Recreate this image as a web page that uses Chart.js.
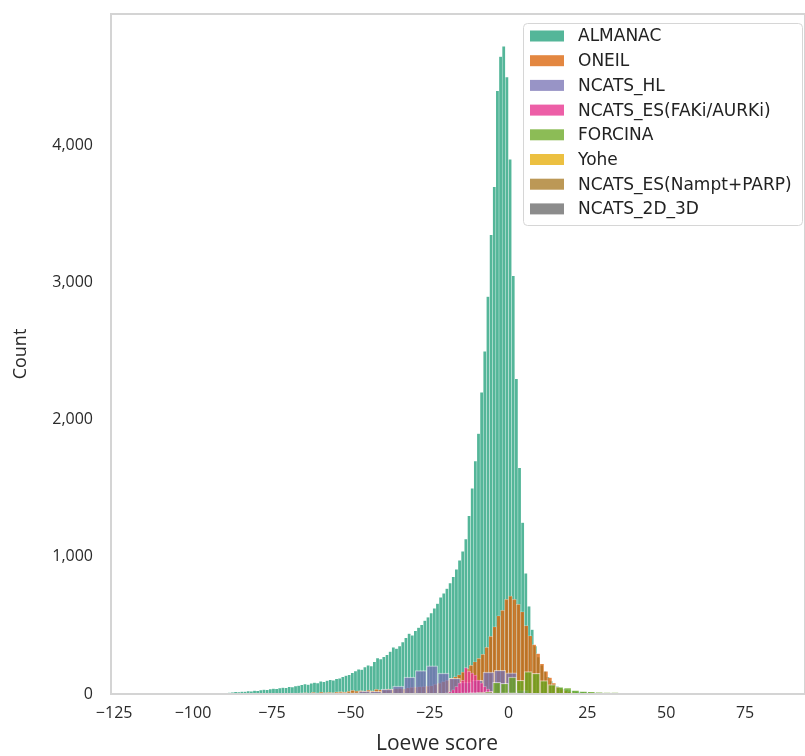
<!DOCTYPE html>
<html>
<head>
<meta charset="utf-8">
<script src="https://cdn.jsdelivr.net/npm/chart.js@4/dist/chart.umd.min.js"></script>
<style>
  html, body { margin: 0; padding: 0; background: #fff; }
  #wrap { width: 805px; height: 756px; }
</style>
</head>
<body>
<div id="wrap"><canvas id="hist" width="805" height="756"></canvas></div>
<script>
// Loewe score histograms, one per study. Counts.
// Each series: left edge of first bin, bin width, counts per bin.
var seriesNames = ['ALMANAC', 'ONEIL', 'NCATS_HL', 'NCATS_ES(FAKi/AURKi)',
                   'FORCINA', 'Yohe', 'NCATS_ES(Nampt+PARP)', 'NCATS_2D_3D'];

var almanacStart = -100, almanacWidth = 1;
var almanacCounts = [
  2, 1, 3, 2, 3, 4, 5, 4, 6, 7,
  8, 10, 12, 15, 14, 18, 17, 21, 20, 25,
  24, 28, 32, 30, 36, 40, 38, 44, 47, 45,
  53, 50, 58, 62, 66, 72, 68, 78, 84, 80,
  92, 88, 98, 104, 100, 110, 114, 126, 134, 140,
  155, 168, 180, 178, 196, 210, 204, 235, 262, 255,
  272, 285, 310, 340, 332, 350, 378, 410, 440, 428,
  460, 485, 505, 535, 560, 590, 625, 660, 705, 735,
  770, 810, 855, 910, 975, 1040, 1130, 1300, 1500, 1700,
  1900, 2200, 2500, 2900, 3350, 3700, 4400, 4650, 4725, 4500,
  3900, 3050, 2300, 1650, 1250, 880, 640, 470, 350, 270,
  210, 165, 125, 95, 72, 56, 46, 38, 32, 27,
  24, 20, 18, 15, 14, 12, 11, 10, 9, 8,
  8, 7, 6, 6, 5, 5, 4, 4, 3, 3,
  3, 2, 2, 2, 2, 1, 2, 1, 1
];

var oneilStart = -70, oneilWidth = 1.25;
var oneilCounts = [
  4, 6, 0, 8, 10, 6, 12, 9, 14, 11,
  13, 10, 15, 18, 14, 20, 26, 22, 25, 20,
  28, 24, 34, 30, 32, 36, 34, 40, 42, 38,
  45, 48, 50, 52, 55, 58,
  60, 70, 80, 90, 100, 115, 125, 140, 160, 185,
  210, 235, 260, 290, 340, 420, 490, 570, 610, 690,
  715, 690, 655, 600, 500, 425, 360, 295, 220, 165,
  120, 80, 52, 36, 25, 17, 11, 7, 4, 3
];

var hlStart = -58.2, hlWidth = 3.58;
var hlCounts = [6, 10, 8, 22, 20, 36, 58, 124, 170, 206, 152, 115, 85, 100, 160, 173, 155, 25];

var fakiStart = -20, fakiWidth = 1;
var fakiCounts = [8, 15, 30, 55, 80, 100, 192, 165, 152, 138, 102, 80, 55, 35, 20, 10, 5];

var forcinaStart = -20, forcinaWidth = 2.5;
var forcinaCounts = [3, 5, 8, 10, 12, 17, 85, 78, 124, 100, 163, 151, 98, 68,
                     52, 46, 29, 22, 20, 15, 14, 12, 10, 3, 4, 3, 2, 3];

var yoheStart = -1.5, yoheWidth = 1.5;
var yoheCounts = [4, 8, 9, 7, 6, 3];

var namptStart = -6, namptWidth = 2;
var namptCounts = [4, 6, 8, 6, 4];

var d3Start = -4, d3Width = 2;
var d3Counts = [3, 4, 3];

var xTicks = [-125, -100, -75, -50, -25, 0, 25, 50, 75];
var yTicks = [0, 1000, 2000, 3000, 4000];
var xMin = -126, xMax = 94;
var yMax = 4961;

// Dark2 palette, seaborn alpha
var colors = ['rgba(27,158,119,0.75)', 'rgba(217,95,2,0.75)', 'rgba(117,112,179,0.75)',
              'rgba(231,41,138,0.75)', 'rgba(102,166,30,0.75)', 'rgba(230,171,2,0.75)',
              'rgba(166,118,29,0.75)', 'rgba(102,102,102,0.75)'];

function binPoints(start, width, counts) {
  var pts = [];
  for (var i = 0; i < counts.length; i++) {
    if (counts[i] > 0) pts.push({ x: start + width * (i + 0.5), y: counts[i] });
  }
  return pts;
}

var series = [
  binPoints(almanacStart, almanacWidth, almanacCounts),
  binPoints(oneilStart, oneilWidth, oneilCounts),
  binPoints(hlStart, hlWidth, hlCounts),
  binPoints(fakiStart, fakiWidth, fakiCounts),
  binPoints(forcinaStart, forcinaWidth, forcinaCounts),
  binPoints(yoheStart, yoheWidth, yoheCounts),
  binPoints(namptStart, namptWidth, namptCounts),
  binPoints(d3Start, d3Width, d3Counts)
];

var tickFont = { family: '"Open Sans", sans-serif', size: 16 };

// each series gets its own (hidden) x axis so the bar width follows its own bins
var scales = {
  x: {
    type: 'linear', min: xMin, max: xMax, offset: false,
    grid: { display: false, drawTicks: false },
    border: { display: false },
    afterBuildTicks: function (s) { s.ticks = xTicks.map(function (v) { return { value: v }; }); },
    afterFit: function (s) { s.height = 62; s.paddingLeft = 0; s.paddingRight = 0; },
    ticks: {
      padding: 10, color: '#2a2a2a', font: tickFont, maxRotation: 0,
      callback: function (v) { return v < 0 ? '\u2212' + Math.abs(v) : String(v); }
    }
  },
  y: {
    type: 'linear', min: 0, max: yMax,
    grid: { display: false, drawTicks: false },
    border: { display: false },
    afterBuildTicks: function (s) { s.ticks = yTicks.map(function (v) { return { value: v }; }); },
    afterFit: function (s) { s.width = 111; s.paddingTop = 0; s.paddingBottom = 0; },
    ticks: {
      padding: 18, color: '#2a2a2a', font: tickFont,
      callback: function (v) { return v.toLocaleString('en-US'); }
    },
    title: { display: true, text: 'Count', color: '#2a2a2a', padding: { top: 10, bottom: 0 },
             font: { family: '"Open Sans", sans-serif', size: 18 } }
  }
};

var datasets = series.map(function (pts, i) {
  var axisId = i === 0 ? 'x' : 'x' + i;
  if (i > 0) {
    scales[axisId] = { type: 'linear', display: false, min: xMin, max: xMax, offset: false };
  }
  return {
    label: seriesNames[i],
    data: pts,
    xAxisID: axisId,
    yAxisID: 'y',
    backgroundColor: colors[i],
    borderColor: i === 0 ? 'rgba(255,255,255,0.3)' : 'rgba(255,255,255,0.55)',
    borderWidth: i === 0 || i === 1 || i === 3 ? 0.5 : 1,
    grouped: false,
    barPercentage: 1,
    categoryPercentage: 1,
    order: series.length - i   // first study at the bottom, like seaborn
  };
});

// light grey frame round the plot area
var frame = {
  id: 'frame',
  afterDatasetsDraw: function (chart) {
    var a = chart.chartArea, ctx = chart.ctx;
    ctx.save();
    ctx.strokeStyle = '#d4d4d4';
    ctx.lineWidth = 2;
    ctx.strokeRect(a.left, a.top, a.right - a.left, a.bottom - a.top);
    ctx.restore();
  }
};

// x axis title sits a little left of the axis centre in the figure
var xTitle = {
  id: 'xTitle',
  afterDraw: function (chart) {
    var ctx = chart.ctx;
    ctx.save();
    ctx.font = '21px "Open Sans", sans-serif';
    ctx.fillStyle = '#2a2a2a';
    ctx.textAlign = 'center';
    ctx.textBaseline = 'middle';
    ctx.fillText('Loewe score', 437, 744);
    ctx.restore();
  }
};

// legend box inside the plot, top right
var legendBox = {
  id: 'legendBox',
  afterDraw: function (chart) {
    var ctx = chart.ctx;
    ctx.save();
    ctx.beginPath();
    ctx.roundRect(523.5, 23.5, 279, 202, 4);
    ctx.fillStyle = 'rgba(255,255,255,0.85)';
    ctx.fill();
    ctx.strokeStyle = '#d6d6d6';
    ctx.lineWidth = 1;
    ctx.stroke();
    ctx.font = '17px "DejaVu Sans"';
    ctx.textBaseline = 'middle';
    chart.data.datasets.forEach(function (ds, i) {
      var y = 36 + i * 24.7;
      ctx.fillStyle = ds.backgroundColor;
      ctx.fillRect(530, y - 5.5, 34, 11);
      ctx.fillStyle = '#222';
      ctx.fillText(ds.label, 578, y + 1);
    });
    ctx.restore();
  }
};

new Chart(document.getElementById('hist').getContext('2d'), {
  type: 'bar',
  data: { datasets: datasets },
  options: {
    responsive: false,
    animation: false,
    layout: { padding: { left: 0, right: 0, top: 14, bottom: 0 } },
    plugins: { legend: { display: false }, tooltip: { enabled: false } },
    scales: scales
  },
  plugins: [frame, xTitle, legendBox]
});
</script>
</body>
</html>
